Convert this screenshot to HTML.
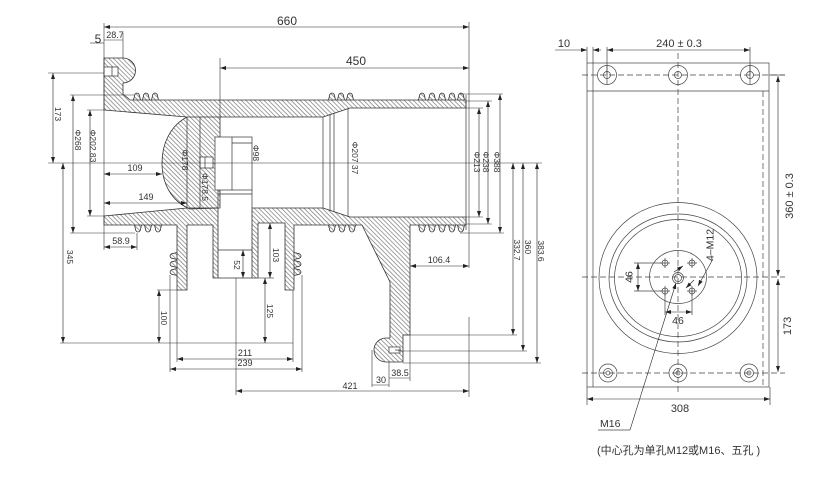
<!DOCTYPE html>
<html><head><meta charset="utf-8">
<style>
html,body{margin:0;padding:0;background:#fff}
svg{display:block}
text{font-family:"Liberation Sans","Noto Sans CJK SC",sans-serif;fill:#333}
</style></head><body>
<svg width="819" height="479" viewBox="0 0 819 479" xmlns="http://www.w3.org/2000/svg">
<defs>
<pattern id="h" width="3.2" height="3.2" patternUnits="userSpaceOnUse" patternTransform="rotate(-45)"><line x1="0.5" y1="0" x2="0.5" y2="3.2" stroke="#555" stroke-width="0.55"/></pattern>
<marker id="a" viewBox="0 0 6 4" refX="6" refY="2" markerWidth="6" markerHeight="4" markerUnits="userSpaceOnUse" orient="auto-start-reverse"><path d="M0,0L6,2L0,4z" fill="#222"/></marker>
<path id="su" d="M-3.5,0 L-2.2,-5.5 Q0,-8.5 2.2,-5.5 L3.5,0"/>
<path id="sd" d="M-3.5,0 L-2.2,5.5 Q0,8.5 2.2,5.5 L3.5,0"/>
<path id="sl" d="M0,-3.5 L-5.5,-2.2 Q-8.5,0 -5.5,2.2 L0,3.5"/>
<path id="sr" d="M0,-3.5 L5.5,-2.2 Q8.5,0 5.5,2.2 L0,3.5"/>
</defs>
<rect width="819" height="479" fill="#fff"/>

<!-- ===== LEFT SECTION VIEW ===== -->
<g fill="url(#h)" stroke="#333" stroke-width="0.8" stroke-linejoin="round">
  <!-- sheds -->
  <use href="#su" x="137" y="100"/><use href="#su" x="146" y="100"/><use href="#su" x="155" y="100"/>
  <use href="#su" x="332" y="100"/><use href="#su" x="341" y="100"/><use href="#su" x="350" y="100"/>
  <use href="#su" x="422" y="100"/><use href="#su" x="432" y="100"/><use href="#su" x="442" y="100"/><use href="#su" x="452" y="100"/><use href="#su" x="461" y="100"/>
  <use href="#sd" x="138" y="225"/><use href="#sd" x="148" y="225"/><use href="#sd" x="158" y="225"/>
  <use href="#sd" x="332" y="225"/><use href="#sd" x="342" y="225"/><use href="#sd" x="352" y="225"/>
  <use href="#sd" x="422" y="225"/><use href="#sd" x="432" y="225"/><use href="#sd" x="442" y="225"/><use href="#sd" x="452" y="225"/><use href="#sd" x="461" y="225"/>
  <use href="#sl" x="177" y="256"/><use href="#sl" x="177" y="264"/><use href="#sl" x="177" y="272"/>
  <use href="#sr" x="294" y="256"/><use href="#sr" x="294" y="264"/><use href="#sr" x="294" y="272"/>
  <!-- top wall + insert -->
  <path d="M104,58 L123,58 A12.5,12.5 0 0 1 123,83 L123,94 L130,100 L466,100 L466,108 L350,108 L323,117 L220,117 L220,208 L190,209 C171,201 162,183 162,163 C162,144 170,126 187,117 L104,110 Z"/>
  <!-- bottom left -->
  <path d="M104,216 L187,208 L218,208 L218,278 L213,278 L213,225 L187,225 L187,290 L177,290 L177,225 L104,225 Z"/>
  <!-- bottom right incl. leg & flange -->
  <path d="M252,208 L323,208 L350,217 L466,217 L466,225 L410,225 L410,335 L403,335 L403,362 L386,362 A12,12 0 0 1 386,338 L390,338 L390,282 L362,225 L294,225 L294,290 L285,290 L285,223 L258,223 L258,278 L252,278 Z"/>
</g>

<g fill="#fff" stroke="#333" stroke-width="0.7">
  <rect x="104" y="67" width="14" height="9"/>
  <rect x="200" y="157" width="13" height="11"/>
  <rect x="215" y="137" width="37" height="53"/>
  <rect x="389" y="347" width="11" height="6"/>
</g>

<g stroke="#333" stroke-width="0.7" fill="none">
  <line x1="112" y1="67" x2="112" y2="76"/>
  <line x1="205" y1="157" x2="205" y2="168"/>
  <line x1="232" y1="137" x2="232" y2="190"/>
  <line x1="232" y1="143" x2="252" y2="143"/>
  <line x1="187" y1="117" x2="187" y2="208"/>
  <line x1="200" y1="117" x2="200" y2="209"/>
  <line x1="187" y1="117" x2="220" y2="117"/>
  <line x1="218" y1="194" x2="252" y2="194"/>
  <line x1="218" y1="190" x2="218" y2="208"/>
  <line x1="252" y1="190" x2="252" y2="208"/>
  <line x1="218" y1="250" x2="252" y2="250"/>
  <line x1="218" y1="278" x2="252" y2="278"/>
  <line x1="323" y1="117" x2="323" y2="208"/>
  <line x1="330" y1="114" x2="330" y2="211"/>
  <line x1="334" y1="113" x2="334" y2="212"/>
  <line x1="348" y1="108" x2="348" y2="217"/>
  <line x1="466" y1="95" x2="466" y2="230"/>
  <line x1="395" y1="350" x2="400" y2="350"/>
</g>

<!-- dimension lines -->
<g stroke="#333" stroke-width="0.6" fill="none">
  <!-- centre line -->
  <line x1="48" y1="163" x2="542" y2="163"/>
  <!-- extension lines -->
  <line x1="104" y1="23" x2="104" y2="250"/>
  <line x1="469" y1="22" x2="469" y2="268"/>
  <line x1="469" y1="317" x2="469" y2="397"/>
  <line x1="220" y1="58" x2="220" y2="117"/>
  <line x1="123" y1="33" x2="123" y2="58"/>
  <line x1="90" y1="43" x2="104" y2="43"/>
  <line x1="104" y1="40" x2="123" y2="40"/>
  <line x1="48" y1="73" x2="104" y2="73"/>
  <line x1="70" y1="95" x2="135" y2="95"/>
  <line x1="70" y1="233" x2="135" y2="233"/>
  <line x1="87" y1="110" x2="104" y2="110"/>
  <line x1="87" y1="216" x2="104" y2="216"/>
  <line x1="60" y1="343" x2="293" y2="343"/>
  <line x1="137" y1="233" x2="137" y2="250"/>
  <line x1="157" y1="290" x2="177" y2="290"/>
  <line x1="177" y1="290" x2="177" y2="362"/>
  <line x1="293" y1="290" x2="293" y2="362"/>
  <line x1="170" y1="275" x2="170" y2="372"/>
  <line x1="302" y1="275" x2="302" y2="372"/>
  <line x1="258" y1="278" x2="274" y2="278"/>
  <line x1="236" y1="278" x2="236" y2="395"/>
  <line x1="410" y1="335" x2="410" y2="381"/>
  <line x1="389" y1="362" x2="389" y2="387"/>
  <line x1="372" y1="350" x2="372" y2="387"/>
  <line x1="389" y1="378" x2="410" y2="378"/>
  <line x1="372" y1="385" x2="389" y2="385"/>
  <line x1="460" y1="94" x2="503" y2="94"/>
  <line x1="466" y1="101" x2="492" y2="101"/>
  <line x1="466" y1="108" x2="483" y2="108"/>
  <line x1="466" y1="217" x2="483" y2="217"/>
  <line x1="466" y1="224" x2="492" y2="224"/>
  <line x1="460" y1="233" x2="504" y2="233"/>
  <line x1="403" y1="335" x2="517" y2="335"/>
  <line x1="398" y1="351" x2="527" y2="351"/>
  <line x1="403" y1="363" x2="541" y2="363"/>
</g>
<g stroke="#222" stroke-width="0.6" fill="none" marker-start="url(#a)" marker-end="url(#a)">
  <line x1="104" y1="27" x2="469" y2="27"/>
  <line x1="220" y1="68" x2="469" y2="68"/>
  <line x1="53" y1="73" x2="53" y2="163"/>
  <line x1="73" y1="95" x2="73" y2="233"/>
  <line x1="90" y1="110" x2="90" y2="216"/>
  <line x1="63" y1="163" x2="63" y2="343"/>
  <line x1="104" y1="174" x2="162" y2="174"/>
  <line x1="104" y1="203" x2="187" y2="203"/>
  <line x1="104" y1="247" x2="137" y2="247"/>
  <line x1="159" y1="290" x2="159" y2="343"/>
  <line x1="177" y1="359" x2="293" y2="359"/>
  <line x1="170" y1="369" x2="302" y2="369"/>
  <line x1="243" y1="250" x2="243" y2="278"/>
  <line x1="270" y1="223" x2="270" y2="278"/>
  <line x1="265" y1="278" x2="265" y2="343"/>
  <line x1="236" y1="391" x2="469" y2="391"/>
  <line x1="410" y1="266" x2="469" y2="266"/>
  <line x1="479" y1="108" x2="479" y2="217"/>
  <line x1="488" y1="101" x2="488" y2="224"/>
  <line x1="500" y1="94" x2="500" y2="233"/>
  <line x1="513" y1="163" x2="513" y2="335"/>
  <line x1="523" y1="163" x2="523" y2="351"/>
  <line x1="537" y1="163" x2="537" y2="363"/>
</g>

<!-- left labels -->
<g font-size="12" text-anchor="middle">
  <text x="287" y="25">660</text>
  <text x="356" y="65">450</text>
  <text x="98" y="43">5</text>
</g>
<g font-size="9" text-anchor="middle">
  <text x="115" y="38">28.7</text>
  <text x="135" y="171">109</text>
  <text x="146" y="200">149</text>
  <text x="121" y="244">58.9</text>
  <text x="245" y="356">211</text>
  <text x="245" y="366">239</text>
  <text x="439" y="263">106.4</text>
  <text x="381" y="383">30</text>
  <text x="400" y="376">38.5</text>
  <text x="350" y="389">421</text>
</g>
<g font-size="8.5" text-anchor="middle">
  <text transform="translate(58,114) rotate(90)" dy="0.35em">173</text>
  <text transform="translate(78,140) rotate(90)" dy="0.35em">Φ268</text>
  <text transform="translate(93,146) rotate(90)" dy="0.35em">Φ202.83</text>
  <text transform="translate(70,257) rotate(90)" dy="0.35em">345</text>
  <text transform="translate(185,160) rotate(90)" dy="0.35em">Φ178</text>
  <text transform="translate(205,187) rotate(90)" dy="0.35em">Φ178.5</text>
  <text transform="translate(256,153) rotate(90)" dy="0.35em">Φ98</text>
  <text transform="translate(355,158) rotate(90)" dy="0.35em">Φ207 37</text>
  <text transform="translate(477,162) rotate(90)" dy="0.35em">Φ213</text>
  <text transform="translate(486,162) rotate(90)" dy="0.35em">Φ238</text>
  <text transform="translate(497,162) rotate(90)" dy="0.35em">Φ388</text>
  <text transform="translate(517,250) rotate(90)" dy="0.35em">332.7</text>
  <text transform="translate(528,247) rotate(90)" dy="0.35em">360</text>
  <text transform="translate(541,251) rotate(90)" dy="0.35em">383.6</text>
  <text transform="translate(164,318) rotate(90)" dy="0.35em">100</text>
  <text transform="translate(270,311) rotate(90)" dy="0.35em">125</text>
  <text transform="translate(276,255) rotate(90)" dy="0.35em">103</text>
  <text transform="translate(237,265) rotate(90)" dy="0.35em">52</text>
</g>

<!-- ===== RIGHT FLANGE VIEW ===== -->
<g stroke="#444" stroke-width="0.7" fill="none">
  <rect x="587" y="63" width="182" height="324"/>
  <line x1="587" y1="91" x2="769" y2="91"/>
  <line x1="593" y1="47" x2="593" y2="387"/>
  <line x1="587" y1="47" x2="587" y2="63"/>
  <line x1="607" y1="47" x2="607" y2="75"/>
  <line x1="750" y1="47" x2="750" y2="75"/>
  <line x1="587" y1="387" x2="587" y2="405"/>
  <line x1="770" y1="387" x2="770" y2="405"/>
  <ellipse cx="678" cy="278" rx="79" ry="75.5"/>
  <ellipse cx="678" cy="278" rx="69" ry="64"/>
  <ellipse cx="678" cy="278" rx="63.5" ry="58.5"/>
  <ellipse cx="678" cy="277" rx="28.5" ry="26.5"/>
  <circle cx="678" cy="278" r="5.5"/>
  <circle cx="678" cy="278" r="3.5"/>
  <!-- top bolts -->
  <circle cx="607" cy="75" r="9.5"/><circle cx="607" cy="75" r="3.5"/>
  <circle cx="678" cy="75" r="9.5"/><circle cx="678" cy="75" r="3.5"/>
  <circle cx="750" cy="75" r="9.5"/><circle cx="750" cy="75" r="3.5"/>
  <line x1="607" y1="66" x2="607" y2="84"/><line x1="750" y1="66" x2="750" y2="84"/>
  <!-- bottom bolts -->
  <circle cx="608" cy="373" r="9"/><circle cx="608" cy="373" r="4.5"/><circle cx="608" cy="373" r="2"/>
  <circle cx="678" cy="373" r="9"/><circle cx="678" cy="373" r="4.5"/><circle cx="678" cy="373" r="2"/>
  <circle cx="749" cy="373" r="9"/><circle cx="749" cy="373" r="4.5"/><circle cx="749" cy="373" r="2"/>
  <!-- 4-M12 holes -->
  <circle cx="665" cy="263" r="3"/><circle cx="692" cy="263" r="3"/>
  <circle cx="665" cy="291" r="3"/><circle cx="692" cy="291" r="3"/>
  <path d="M660,263h10M665,258v10M687,263h10M692,258v10M660,291h10M665,286v10M687,291h10M692,286v10"/>
  <!-- 46 extensions -->
  <line x1="634" y1="263" x2="662" y2="263"/>
  <line x1="634" y1="291" x2="662" y2="291"/>
  <line x1="665" y1="291" x2="665" y2="315"/>
  <line x1="692" y1="291" x2="692" y2="315"/>
  <line x1="769" y1="75" x2="785" y2="75"/>
  <!-- M16 leader underline -->
  <line x1="598" y1="430" x2="630" y2="430"/>
</g>
<g stroke="#444" stroke-width="0.7" fill="none" stroke-dasharray="6,3">
  <line x1="582" y1="75" x2="785" y2="75"/>
  <line x1="582" y1="277" x2="785" y2="277"/>
  <line x1="582" y1="373" x2="785" y2="373"/>
  <line x1="678" y1="53" x2="678" y2="395"/>
  <line x1="763" y1="91" x2="763" y2="387"/>
</g>
<g stroke="#222" stroke-width="0.6" fill="none">
  <line x1="555" y1="50" x2="587" y2="50" marker-end="url(#a)"/>
  <line x1="601" y1="50" x2="593" y2="50" marker-end="url(#a)"/>
  <line x1="607" y1="50" x2="750" y2="50" marker-start="url(#a)" marker-end="url(#a)"/>
  <line x1="778" y1="76" x2="778" y2="276" marker-start="url(#a)" marker-end="url(#a)"/>
  <line x1="778" y1="279" x2="778" y2="372" marker-start="url(#a)" marker-end="url(#a)"/>
  <line x1="587" y1="399" x2="770" y2="399" marker-start="url(#a)" marker-end="url(#a)"/>
  <line x1="638" y1="263" x2="638" y2="291" marker-start="url(#a)" marker-end="url(#a)"/>
  <line x1="665" y1="312" x2="692" y2="312" marker-start="url(#a)" marker-end="url(#a)"/>
  <line x1="713" y1="259" x2="698" y2="286" marker-end="url(#a)"/>
  <line x1="630" y1="430" x2="676" y2="283" marker-end="url(#a)"/>
  <line x1="694" y1="280" x2="686" y2="288" marker-end="url(#a)"/>
  <line x1="674" y1="272" x2="683" y2="266" marker-end="url(#a)"/>
</g>

<g font-size="11" text-anchor="middle">
  <text x="564" y="47">10</text>
  <text x="679" y="47">240 ± 0.3</text>
  <text transform="translate(789,196) rotate(-90)" dy="0.35em">360 ± 0.3</text>
  <text transform="translate(787,326) rotate(-90)" dy="0.35em">173</text>
  <text x="680" y="412">308</text>
</g>
<g font-size="10.5" text-anchor="middle">
  <text transform="translate(629,277) rotate(-90)" dy="0.35em">46</text>
  <text x="678" y="324">46</text>
  <text transform="translate(710,245) rotate(-90)" dy="0.35em">4–M12</text>
</g>
<text x="600" y="427" font-size="10.5">M16</text>
<text x="597" y="454" font-size="11">(中心孔为单孔M12或M16、五孔 )</text>
</svg>
</body></html>
